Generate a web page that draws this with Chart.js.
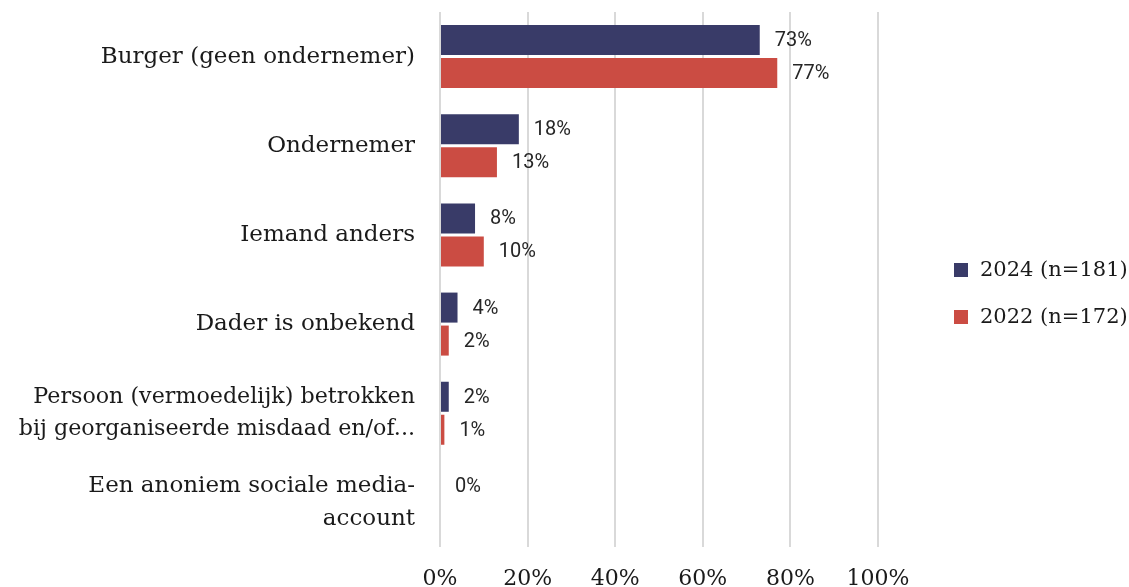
<!DOCTYPE html>
<html lang="nl">
<head>
    <meta charset="UTF-8">
    <title>Dader</title>
    <script src="https://cdn.jsdelivr.net/npm/chart.js"></script>
    <style>
        html, body {
            margin: 0;
            padding: 0;
            background: #ffffff;
        }
        #wrap {
            width: 1129px;
            height: 587px;
        }
    </style>
</head>
<body>
    <div id="wrap">
        <canvas id="chart" width="1129" height="587"></canvas>
    </div>
    <script>
        const categories = [
            'Burger (geen ondernemer)',
            'Ondernemer',
            'Iemand anders',
            'Dader is onbekend',
            ['Persoon (vermoedelijk) betrokken', 'bij georganiseerde misdaad en/of...'],
            ['Een anoniem sociale media-', 'account']
        ];
        const seriesNames = ['2024 (n=181)', '2022 (n=172)'];
        const values2024 = [73, 18, 8, 4, 2, 0];
        const values2022 = [77, 13, 10, 2, 1, null];
        const tickValues = [0, 20, 40, 60, 80, 100];

        const NAVY = '#393b68';
        const RED = '#cb4c43';
        const SERIF = '"DejaVu Serif", serif';

        // value labels just right of each bar end
        const valueLabels = {
            id: 'valueLabels',
            afterDatasetsDraw(chart) {
                const ctx = chart.ctx;
                ctx.save();
                ctx.font = '20px Roboto, sans-serif';
                ctx.fillStyle = '#262626';
                ctx.textAlign = 'left';
                ctx.textBaseline = 'middle';
                chart.data.datasets.forEach((ds, di) => {
                    chart.getDatasetMeta(di).data.forEach((bar, i) => {
                        const v = ds.data[i];
                        if (v === null || v === undefined) return;
                        ctx.fillText(v + '%', bar.x + 15, bar.y + 1);
                    });
                });
                ctx.restore();
            }
        };

        // legend block to the right of the plot
        const sideLegend = {
            id: 'sideLegend',
            afterDraw(chart) {
                const ctx = chart.ctx;
                const area = chart.chartArea;
                const x = area.right + 76;
                const y0 = chart.height / 2 - 23.5;
                ctx.save();
                ctx.font = '21px ' + SERIF;
                ctx.textAlign = 'left';
                ctx.textBaseline = 'middle';
                chart.data.datasets.forEach((ds, i) => {
                    const y = y0 + i * 47;
                    ctx.fillStyle = ds.backgroundColor;
                    ctx.fillRect(x, y - 7, 14, 14);
                    ctx.fillStyle = '#1a1a1a';
                    ctx.fillText(ds.label, x + 26, y + 1);
                });
                ctx.restore();
            }
        };

        new Chart(document.getElementById('chart'), {
            type: 'bar',
            data: {
                labels: categories,
                datasets: [
                    { label: seriesNames[0], data: values2024, backgroundColor: NAVY },
                    { label: seriesNames[1], data: values2022, backgroundColor: RED }
                ]
            },
            options: {
                indexAxis: 'y',
                responsive: false,
                animation: false,
                devicePixelRatio: 1,
                categoryPercentage: 0.74,
                barPercentage: 0.91,
                layout: {
                    padding: { top: 12, left: 10, right: 251, bottom: 0 }
                },
                plugins: {
                    legend: { display: false },
                    tooltip: { enabled: false }
                },
                scales: {
                    x: {
                        min: 0,
                        max: 100,
                        afterBuildTicks(scale) {
                            scale.ticks = tickValues.map(v => ({ value: v }));
                        },
                        afterFit(scale) {
                            scale.height = 40;
                            scale.paddingLeft = 0;
                            scale.paddingRight = 0;
                        },
                        border: { display: false },
                        grid: {
                            color: '#d9d9d9',
                            lineWidth: 2,
                            drawTicks: false
                        },
                        ticks: {
                            padding: 19,
                            color: '#1a1a1a',
                            font: { family: SERIF, size: 22 },
                            callback: v => v + '%'
                        }
                    },
                    y: {
                        afterFit(scale) {
                            scale.width = 430;
                            scale.paddingTop = 0;
                            scale.paddingBottom = 0;
                        },
                        border: { display: false },
                        grid: { display: false, drawTicks: false },
                        ticks: {
                            padding: 25,
                            color: '#1a1a1a',
                            // the long two-line label is set a touch smaller so it fits the axis
                            font: c => ({
                                family: SERIF,
                                size: c.index === 4 ? 22.2 : 23,
                                lineHeight: 1.42
                            })
                        }
                    }
                }
            },
            plugins: [valueLabels, sideLegend]
        });
    </script>
</body>
</html>
